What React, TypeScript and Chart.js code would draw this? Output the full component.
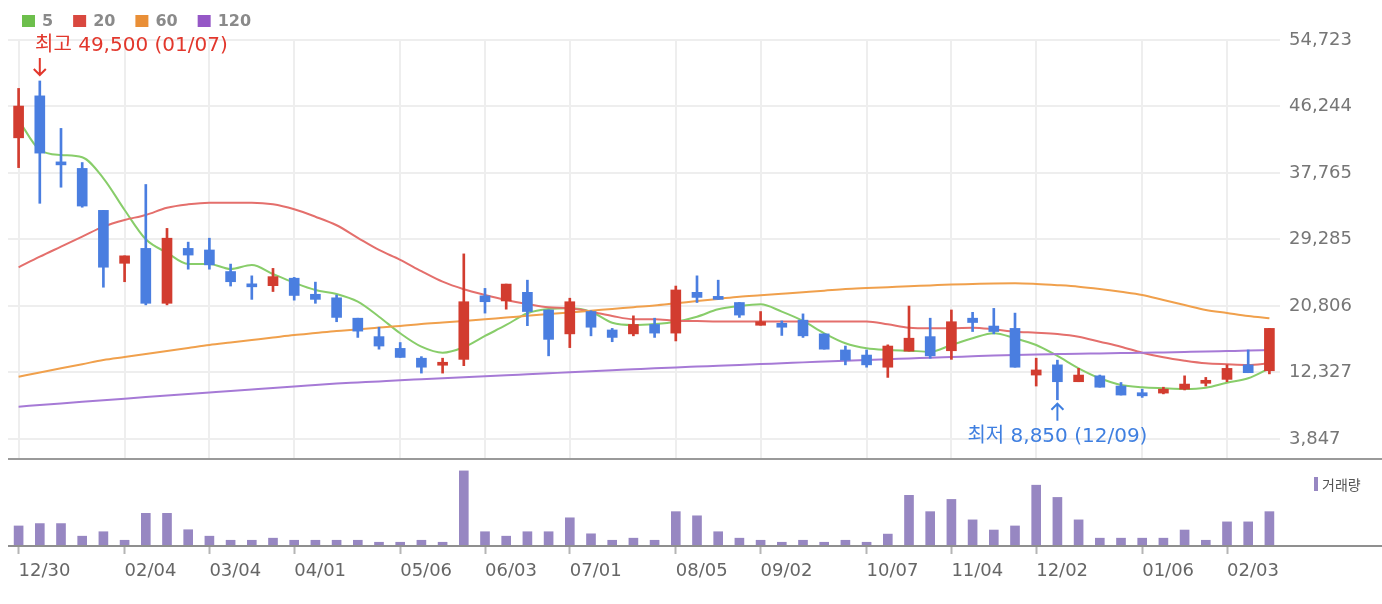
import React, { useEffect, useRef } from "react";
import { Chart, registerables } from "chart.js";

Chart.register(...registerables);

// ---------- data ----------
const weeks = [
  "12/30", "01/07", "01/14", "01/21", "01/28", "02/04", "02/11", "02/18", "02/25", "03/04",
  "03/11", "03/18", "03/25", "04/01", "04/08", "04/15", "04/22", "04/29", "05/06", "05/13",
  "05/20", "05/27", "06/03", "06/10", "06/17", "06/24", "07/01", "07/08", "07/15", "07/22",
  "07/29", "08/05", "08/12", "08/19", "08/26", "09/02", "09/09", "09/16", "09/23", "09/30",
  "10/07", "10/14", "10/21", "10/28", "11/04", "11/11", "11/18", "11/25", "12/02", "12/09",
  "12/16", "12/23", "12/30", "01/06", "01/13", "01/20", "01/27", "02/03", "02/10", "02/17",
];

const openP = [
  42250, 47600, 39150, 38350, 33000, 26250, 28150, 21150, 28150, 27950,
  25200, 23600, 23400, 24350, 22300, 21850, 19250, 16900, 15400, 14150,
  13250, 14000, 22100, 21450, 22550, 20300, 17250, 20100, 17750, 17250,
  18450, 17350, 22550, 22000, 21250, 18350, 18600, 19000, 17250, 15200,
  14550, 13000, 15050, 16900, 15100, 19250, 18250, 17950, 12000, 13300,
  11150, 11900, 10600, 9750, 9700, 10200, 10950, 11450, 13300, 12550,
];
const highP = [
  48550, 49500, 43450, 39100, 33000, 27200, 36300, 30700, 28950, 29450,
  26150, 24650, 25600, 24450, 23850, 22200, 19250, 18100, 16150, 14350,
  14150, 27450, 23050, 23600, 24100, 20300, 21800, 20200, 17950, 19550,
  19250, 23350, 24650, 24100, 21250, 20100, 18900, 19800, 17250, 15700,
  15200, 15850, 20800, 19250, 20300, 20000, 20500, 19900, 14150, 13900,
  12850, 12000, 11050, 10200, 10450, 11900, 11700, 13300, 15200, 17950,
];
const lowP = [
  38450, 33900, 35950, 33400, 23200, 23900, 20950, 20950, 25500, 25500,
  23350, 21650, 22650, 21550, 21150, 18800, 16800, 15300, 14250, 12250,
  12250, 13200, 19900, 20400, 18300, 14450, 15500, 17000, 16250, 17000,
  16800, 16350, 21250, 21650, 19350, 18350, 17050, 16800, 15300, 13300,
  13000, 11700, 15050, 14150, 14000, 17550, 17250, 13000, 10600, 8850,
  11150, 10450, 9450, 9150, 9600, 10100, 10600, 11150, 12300, 12150,
];
const closeP = [
  46300, 40300, 38800, 33550, 25750, 27200, 21150, 29450, 27300, 26050,
  23900, 23250, 24550, 22150, 21650, 19350, 17600, 15700, 14250, 13000,
  13400, 21350, 21350, 23600, 20100, 16550, 21350, 18100, 16800, 18450,
  17350, 22850, 21900, 21650, 19650, 18800, 18100, 17000, 15300, 13900,
  13300, 15700, 16700, 14450, 18800, 18700, 17550, 13000, 12650, 11150,
  12000, 10450, 9450, 9350, 10200, 10850, 11300, 12850, 12300, 17950,
];

const ma5 = [
  44523, 40698, 40060, 39767, 37090, 33048, 29313, 27604, 26163, 26163,
  25525, 26035, 24888, 23779, 22850, 22338, 21356, 19443, 17327, 15619,
  14854, 15543, 16983, 18385, 19877, 20426, 20515, 20081, 18679, 18385,
  18513, 18806, 19443, 20387, 20808, 21024, 20081, 18895, 17327, 16052,
  15415, 15198, 15108, 14981, 15836, 16690, 17327, 16690, 15836, 14433,
  12865, 11589, 10736, 10442, 10315, 10225, 10391, 11029, 11589, 12865,
];
const ma20 = [
  25742, 27094, 28369, 29644, 30919, 31773, 32410, 33341, 33775, 33979,
  33979, 33979, 33775, 33137, 32193, 31100, 29500, 27950, 26700, 25250,
  23906, 22938, 22210, 21573, 21063, 20642, 20515, 20081, 19533, 19112,
  19112, 18934, 18895, 18833, 18833, 18833, 18833, 18833, 18833, 18833,
  18833, 18475, 18041, 17965, 17965, 18041, 17838, 17531, 17403, 17238,
  16894, 16256, 15619, 14854, 14267, 13834, 13501, 13374, 13286, 13501,
];
const ma60 = [
  11794, 12329, 12865, 13387, 13923, 14305, 14688, 15070, 15453, 15835,
  16154, 16473, 16792, 17110, 17365, 17620, 17812, 18067, 18258, 18513,
  18704, 18895, 19112, 19342, 19558, 19788, 19979, 20209, 20425, 20655,
  20872, 21152, 21433, 21713, 21994, 22185, 22376, 22567, 22759, 22963,
  23090, 23205, 23320, 23434, 23549, 23613, 23677, 23702, 23613, 23460,
  23269, 22975, 22618, 22210, 21573, 20935, 20298, 19915, 19533, 19240,
];
const ma120 = [
  7969, 8173, 8377, 8581, 8785, 8989, 9193, 9397, 9588, 9779,
  9970, 10162, 10353, 10531, 10723, 10914, 11054, 11194, 11335, 11462,
  11590, 11717, 11845, 11972, 12100, 12227, 12355, 12482, 12610, 12737,
  12865, 12979, 13081, 13183, 13285, 13400, 13502, 13617, 13719, 13821,
  13923, 14025, 14114, 14216, 14305, 14395, 14484, 14560, 14624, 14675,
  14726, 14764, 14803, 14841, 14892, 14943, 14994, 15058, 15121, 15198,
];

// volume (thousand shares)
const volume = [
  257, 289, 289, 119, 179, 64, 427, 427, 206, 119,
  64, 64, 92, 64, 64, 64, 64, 37, 37, 64,
  37, 1000, 179, 119, 179, 179, 367, 151, 64, 92,
  64, 450, 394, 179, 92, 64, 37, 64, 37, 64,
  37, 147, 670, 450, 615, 339, 202, 257, 807, 642,
  339, 92, 92, 92, 92, 202, 64, 312, 312, 450,
];

const priceTicks = [3847, 12327, 20806, 29285, 37765, 46244, 54723];
const xTickIndex = [0, 5, 9, 13, 18, 22, 26, 31, 35, 40, 44, 48, 53, 57];
const maNames = ["5", "20", "60", "120"];
const volumeName = "거래량";

// ---------- styles ----------
const UP = "#d23c2f";
const DOWN = "#4a7ee0";
const maLineColors = ["#88cd6a", "#e46f6c", "#f0a04c", "#a67ad6"];
const maLegendColors = ["#6dbf4c", "#d9483f", "#e98f37", "#9557c6"];
const VOL = "#9787c2";
const W = 1382;
const TOP_H = 460;
const BOT_H = 144;

function drawArrow(ctx: CanvasRenderingContext2D, x: number, yTail: number, yHead: number) {
  const dir = yHead > yTail ? 1 : -1;
  ctx.lineWidth = 2;
  ctx.beginPath();
  ctx.moveTo(x, yTail);
  ctx.lineTo(x, yHead);
  ctx.moveTo(x - 6, yHead - dir * 6);
  ctx.lineTo(x, yHead);
  ctx.lineTo(x + 6, yHead - dir * 6);
  ctx.stroke();
}

const fmt = (v: number) => v.toLocaleString("en-US");

const priceDecor = {
  id: "priceDecor",
  afterDraw(chart: any) {
    const ctx: CanvasRenderingContext2D = chart.ctx;
    const xs = chart.scales.x;
    const ys = chart.scales.y;
    const area = chart.chartArea;
    ctx.save();
    // separator between panels
    ctx.fillStyle = "#9a9a9a";
    ctx.fillRect(area.left, area.bottom, chart.width - area.left, 2);

    // legend
    ctx.font = 'bold 16px "DejaVu Sans"';
    ctx.textBaseline = "middle";
    ctx.textAlign = "left";
    let lx = 22;
    maNames.forEach((n, i) => {
      ctx.fillStyle = maLegendColors[i];
      ctx.fillRect(lx, 15, 13, 12);
      ctx.fillStyle = "#8a8a8a";
      ctx.fillText(n, lx + 20, 21.5);
      lx += 20 + ctx.measureText(n).width + 20;
    });

    // max / min annotations
    let hi = 0;
    let lo = 0;
    highP.forEach((v, i) => { if (v > highP[hi]) hi = i; });
    lowP.forEach((v, i) => { if (v < lowP[lo]) lo = i; });
    ctx.font = '20px "DejaVu Sans", "Noto Sans CJK KR"';

    const hx = xs.getPixelForValue(hi);
    const hy = ys.getPixelForValue(highP[hi]);
    const hText = `최고 ${fmt(highP[hi])} (${weeks[hi]})`;
    const hw = ctx.measureText(hText).width;
    ctx.fillStyle = "#e2372c";
    ctx.strokeStyle = "#e2372c";
    ctx.fillText(hText, Math.max(area.left + 27, hx - hw / 2), hy - 35);
    drawArrow(ctx, hx, hy - 23, hy - 6);

    const mx = xs.getPixelForValue(lo);
    const my = ys.getPixelForValue(lowP[lo]);
    const mText = `최저 ${fmt(lowP[lo])} (${weeks[lo]})`;
    const mw = ctx.measureText(mText).width;
    ctx.fillStyle = "#3f7fe0";
    ctx.strokeStyle = "#3f7fe0";
    ctx.fillText(mText, Math.min(area.right - mw - 4, mx - mw / 2), my + 37);
    drawArrow(ctx, mx, my + 21, my + 4);
    ctx.restore();
  },
};

const volumeDecor = {
  id: "volumeDecor",
  afterDraw(chart: any) {
    const ctx: CanvasRenderingContext2D = chart.ctx;
    const area = chart.chartArea;
    ctx.save();
    ctx.fillStyle = "#8f8f8f";
    ctx.fillRect(area.left, area.bottom, chart.width - area.left, 2);
    // volume legend
    ctx.fillStyle = VOL;
    ctx.fillRect(1314, 17, 4, 14);
    ctx.fillStyle = "#555555";
    ctx.font = '14px "Noto Sans CJK KR"';
    ctx.textBaseline = "middle";
    ctx.textAlign = "left";
    ctx.fillText(volumeName, 1322, 24.5);
    ctx.restore();
  },
};

export default function App() {
  const topRef = useRef<HTMLCanvasElement>(null);
  const botRef = useRef<HTMLCanvasElement>(null);

  useEffect(() => {
    const candleColors = openP.map((o, i) => (closeP[i] >= o ? UP : DOWN));
    const bodyData = openP.map((o, i) => [o, closeP[i]]);
    const wickData = lowP.map((l, i) => [l, highP[i]]);
    const maSeries = [ma5, ma20, ma60, ma120];

    const lineSets = maSeries.map((d, i) => ({
      type: "line" as const,
      label: "MA" + maNames[i],
      data: d,
      borderColor: maLineColors[i],
      borderWidth: 2,
      pointRadius: 0,
      cubicInterpolationMode: "monotone",
      fill: false,
      order: 5 - i + 2,
    }));

    const top = new Chart(topRef.current as HTMLCanvasElement, {
      type: "bar",
      data: {
        labels: weeks,
        datasets: [
          {
            type: "bar",
            label: "body",
            data: bodyData as any,
            backgroundColor: candleColors,
            barThickness: 10,
            grouped: false,
            minBarLength: 3,
            order: 0,
          } as any,
          {
            type: "bar",
            label: "wick",
            data: wickData as any,
            backgroundColor: candleColors,
            barThickness: 2,
            grouped: false,
            order: 1,
          } as any,
          ...(lineSets as any[]),
        ],
      },
      options: {
        animation: false,
        responsive: false,
        maintainAspectRatio: false,
        layout: { padding: { left: 8, top: 40, right: 0, bottom: 2 } },
        plugins: { legend: { display: false }, tooltip: { enabled: false } },
        scales: {
          x: {
            type: "category",
            offset: true,
            grid: {
              offset: false,
              drawTicks: false,
              lineWidth: 2,
              color: (c: any) => (xTickIndex.includes(c.index) ? "#eeeeee" : "rgba(0,0,0,0)"),
            },
            border: { display: false },
            ticks: { display: false, autoSkip: false },
            afterFit: (s: any) => {
              s.height = 0;
              s.paddingLeft = 0;
              s.paddingRight = 0;
            },
          },
          y: {
            position: "right",
            min: 1424,
            max: 54723,
            afterBuildTicks: (s: any) => { s.ticks = priceTicks.map((v) => ({ value: v })); },
            afterFit: (s: any) => {
              s.width = W - 1280;
              s.paddingTop = 0;
              s.paddingBottom = 0;
            },
            grid: { color: "#eeeeee", lineWidth: 2, drawTicks: false },
            border: { display: false },
            ticks: {
              padding: 9,
              color: "#767676",
              font: { family: "DejaVu Sans", size: 18 },
              callback: (v: any) => fmt(Number(v)),
            },
          },
        },
      } as any,
      plugins: [priceDecor],
    });

    const bot = new Chart(botRef.current as HTMLCanvasElement, {
      type: "bar",
      data: {
        labels: weeks,
        datasets: [
          {
            label: volumeName,
            data: volume,
            backgroundColor: VOL,
            barThickness: 9,
          },
        ],
      },
      options: {
        animation: false,
        responsive: false,
        maintainAspectRatio: false,
        layout: { padding: { left: 8, top: 2, right: W - 1280, bottom: 0 } },
        plugins: { legend: { display: false }, tooltip: { enabled: false } },
        scales: {
          x: {
            type: "category",
            offset: true,
            grid: {
              offset: false,
              drawOnChartArea: false,
              drawTicks: true,
              tickLength: 9,
              tickWidth: 2,
              tickColor: (c: any) => (xTickIndex.includes(c.index) ? "#b5b5b5" : "rgba(0,0,0,0)"),
            },
            border: { display: false },
            ticks: {
              autoSkip: false,
              maxRotation: 0,
              align: "start",
              padding: 7,
              color: "#666666",
              font: { family: "DejaVu Sans", size: 18 },
              callback: (_v: any, i: number) => (xTickIndex.includes(i) ? weeks[i] : ""),
            },
            afterFit: (s: any) => {
              s.height = BOT_H - 85;
              s.paddingLeft = 0;
              s.paddingRight = 0;
            },
          },
          y: { display: false, min: 0, max: 1120 },
        },
      } as any,
      plugins: [volumeDecor],
    });

    return () => {
      top.destroy();
      bot.destroy();
    };
  }, []);

  return (
    <div style={{ position: "fixed", left: 0, top: 0, width: W, height: TOP_H + BOT_H, background: "#fff" }}>
      <canvas ref={topRef} width={W} height={TOP_H} style={{ position: "absolute", left: 0, top: 0 }} />
      <canvas ref={botRef} width={W} height={BOT_H} style={{ position: "absolute", left: 0, top: TOP_H }} />
    </div>
  );
}
